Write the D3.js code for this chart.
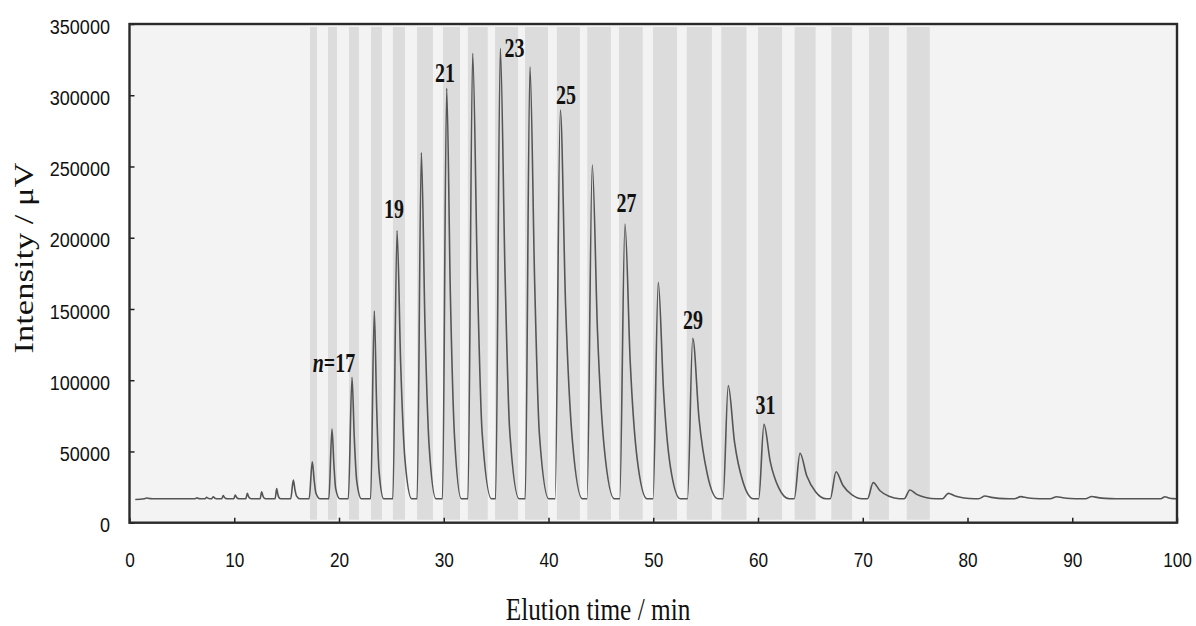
<!DOCTYPE html>
<html><head><meta charset="utf-8">
<script src="https://cdn.jsdelivr.net/npm/d3@7"></script>
<style>body{margin:0;background:#fff}svg{display:block}</style>
</head><body>
<svg id="chart" width="1196" height="626"></svg>
<script>
// ---------- data ----------
const xTicks = [0,10,20,30,40,50,60,70,80,90,100];
const yTicks = [0,50000,100000,150000,200000,250000,300000,350000];

// shaded fraction windows (min)
const bandStart = [17.23,18.95,20.95,23.06,25.15,27.45,29.93,32.3,34.9,37.76,40.8,43.7,46.73,49.98,53.2,56.5,60.0,63.5,67.0,70.6,74.2];
const bandEnd   = [17.9,19.81,21.9,24.1,26.3,28.97,31.55,34.2,37.1,39.95,43.0,45.96,49.0,52.27,55.6,58.9,62.3,65.5,68.98,72.5,76.4];

// chromatogram peaks: apex time (min), apex intensity (µV)
const peakTime   = [1.64,6.42,7.37,8.0,8.95,10.1,11.25,12.62,14.05,15.64,17.45,19.33,21.24,23.37,25.54,27.86,30.28,32.76,35.4,38.23,41.13,44.18,47.3,50.48,53.77,57.16,60.57,64.01,67.45,71.0,74.5,78.17,81.67,85.08,88.5,91.86,98.85];
const peakHeight = [17300,17500,17800,18250,19000,19400,20600,21750,23900,30000,42800,65800,102000,148600,204900,259700,304900,329400,332900,320000,289600,251000,209600,168700,129400,96200,69000,48700,35800,28100,23000,20600,18700,18300,18200,18400,18200];
// peak shape read-offs (min): foot-to-apex, apex-to-half-height (tail), apex-to-15% (tail), apex-to-baseline (tail)
const peakRise = [0.25,0.15,0.15,0.15,0.15,0.15,0.15,0.15,0.15,0.25,0.3,0.3,0.35,0.35,0.4,0.4,0.4,0.45,0.45,0.45,0.5,0.5,0.5,0.5,0.5,0.5,0.5,0.55,0.55,0.55,0.55,0.55,0.6,0.6,0.6,0.6,0.4];
const peakHalf = [0.2,0.1,0.1,0.1,0.1,0.1,0.1,0.1,0.1,0.15,0.18,0.18,0.22,0.22,0.35,0.35,0.35,0.45,0.45,0.45,0.5,0.5,0.5,0.5,0.6,0.6,0.6,0.65,0.65,0.65,0.65,0.65,0.6,0.6,0.6,0.6,0.3];
const peakLow  = [0.35,0.2,0.2,0.2,0.2,0.2,0.2,0.2,0.2,0.3,0.35,0.35,0.45,0.45,0.75,0.75,0.75,0.9,0.9,0.9,1.15,1.15,1.15,1.15,1.4,1.4,1.4,1.5,1.5,1.5,1.5,1.5,1.3,1.3,1.3,1.3,0.6];
const peakEnd  = [0.6,0.4,0.4,0.4,0.4,0.4,0.4,0.4,0.4,0.6,0.75,0.75,0.9,0.9,1.4,1.4,1.4,1.8,1.8,1.8,2.1,2.1,2.1,2.1,2.4,2.4,2.4,2.5,2.5,2.5,2.5,2.5,2.3,2.3,2.3,2.3,1.0];
const baseline = 16800;
const traceStartTime = 0.55, traceStartValue = 16300;
const traceEndTime = 100, traceEndValue = 16600;

// peak annotations (text, anchor in data space: time, intensity)
const labelText  = ["17","19","21","23","25","27","29","31"];
const labelTime  = [19.52,25.25,30.12,36.75,41.67,47.45,53.8,60.72];
const labelValue = [105800,213800,309300,326800,293800,218000,135900,76300];

// ---------- layout ----------
const W = 1196, H = 626;
const m = {l:129.5, t:24, r:19, b:103.3};
const svg = d3.select("#chart");
const x = d3.scaleLinear().domain([0,100]).range([m.l, W - m.r]);
const y = d3.scaleLinear().domain([0,350000]).range([H - m.b, m.t]);

svg.append("defs").append("clipPath").attr("id","clip")
  .append("rect").attr("x", m.l).attr("y", m.t).attr("width", W-m.l-m.r).attr("height", H-m.t-m.b);

// plot background
svg.append("rect").attr("x", m.l).attr("y", m.t).attr("width", W-m.l-m.r).attr("height", H-m.t-m.b)
  .attr("fill", "#f3f3f3");

// bands
svg.append("g").selectAll("rect").data(bandStart).join("rect")
  .attr("x", (d) => x(d))
  .attr("width", (d,i) => x(bandEnd[i]) - x(d))
  .attr("y", y(350000) + 3)
  .attr("height", y(0) - y(350000) - 6)
  .attr("fill", "#dcdcdc");

// trace
const pts = [[traceStartTime, traceStartValue]];
peakTime.forEach((t,i) => {
  const h = peakHeight[i], d = h - baseline;
  pts.push([t - peakRise[i], baseline]);
  pts.push([t, h]);
  pts.push([t + peakHalf[i], baseline + d*0.5]);
  pts.push([t + peakLow[i], baseline + d*0.15]);
  pts.push([t + peakEnd[i], baseline]);
});
pts.push([traceEndTime, traceEndValue]);
pts.sort((a,b) => a[0]-b[0]);

const line = d3.line().x(d => x(d[0])).y(d => y(d[1])).curve(d3.curveMonotoneX);
svg.append("path").datum(pts).attr("clip-path","url(#clip)")
  .attr("d", line).attr("fill","none").attr("stroke","#555").attr("stroke-width",1.6)
  .attr("stroke-linejoin","round");

// axes
const tickFont = "'Liberation Sans', Arial, sans-serif";
const xAxis = svg.append("g").attr("transform", `translate(0,${y(0)})`)
  .call(d3.axisBottom(x).tickValues(xTicks).tickSizeInner(-5).tickSizeOuter(0).tickPadding(29.5).tickFormat(d3.format("d")));
xAxis.select(".domain").remove();
xAxis.selectAll("line").attr("stroke","#222").attr("stroke-width",1.5);
xAxis.selectAll("text").attr("font-family", tickFont).attr("font-size", 21).attr("fill","#111")
  .attr("transform","scale(0.82,1)");

const yAxis = svg.append("g").attr("transform", `translate(${x(0)},0)`)
  .call(d3.axisLeft(y).tickValues(yTicks).tickSizeInner(-5).tickSizeOuter(0).tickFormat(d3.format("d")));
yAxis.select(".domain").remove();
yAxis.selectAll("line").attr("stroke","#222").attr("stroke-width",1.5);
const ys = 0.86;
yAxis.selectAll("text").attr("font-family", tickFont).attr("font-size", 21).attr("fill","#111")
  .attr("x", -19.5/ys).attr("dy","0.43em").attr("transform",`scale(${ys},1)`);

// frame
svg.append("rect").attr("x", m.l).attr("y", m.t).attr("width", W-m.l-m.r).attr("height", H-m.t-m.b)
  .attr("fill","none").attr("stroke","#2a2a2a").attr("stroke-width",2.4);

// peak labels
const serif = "'Liberation Serif', 'Times New Roman', serif";
const lab = svg.append("g").attr("font-family", serif).attr("font-weight","bold").attr("font-size",27).attr("fill","#111");
labelText.forEach((t,i) => {
  const txt = lab.append("text")
    .attr("transform", `translate(${x(labelTime[i])},${y(labelValue[i])}) scale(0.74,1)`)
    .attr("text-anchor","middle");
  if (i === 0) {
    txt.append("tspan").attr("font-style","italic").text("n");
    txt.append("tspan").text("=" + t);
  } else txt.text(t);
});

// axis titles
svg.append("text").attr("transform", `translate(598,620) scale(0.79,1)`)
  .attr("text-anchor","middle").attr("font-family", serif).attr("font-size",32).attr("fill","#111")
  .text("Elution time / min");
svg.append("text").attr("transform", `translate(33,258) rotate(-90) scale(1,0.78)`)
  .attr("text-anchor","middle").attr("font-family", serif).attr("font-size",34.5).attr("fill","#111")
  .text("Intensity / μV");
</script>
</body></html>
